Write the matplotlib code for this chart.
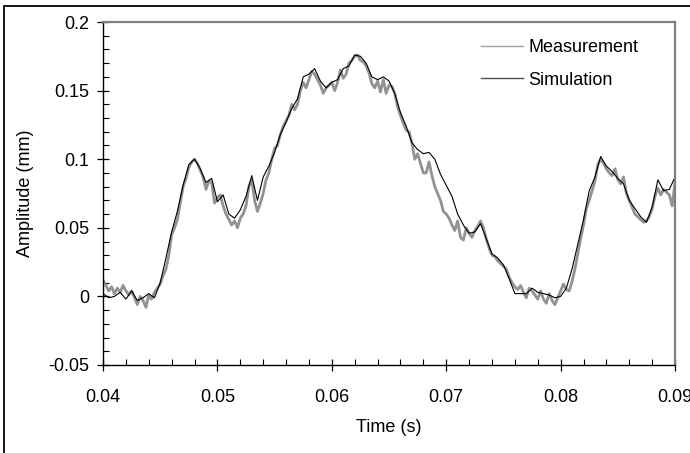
# import library
import numpy as np
import matplotlib.pyplot as plt
from matplotlib.patches import Rectangle

plt.rcParams['font.family'] = ['Liberation Sans', 'DejaVu Sans']

# data
# simulation, step 0.0005 s from 0.04 to 0.09
t_sim = np.linspace(0.04, 0.09, 101)
simulation = [
    0.002, -0.001, 0.000, 0.003, -0.002, 0.004, -0.003, -0.001, 0.002, -0.001,
    0.010, 0.028, 0.047, 0.062, 0.081, 0.096, 0.100, 0.093, 0.083, 0.086,
    0.069, 0.074, 0.060, 0.057, 0.063, 0.073, 0.088, 0.070, 0.087, 0.095,
    0.105, 0.118, 0.127, 0.137, 0.144, 0.160, 0.162, 0.166, 0.157, 0.152,
    0.156, 0.158, 0.166, 0.168, 0.176, 0.175, 0.170, 0.160, 0.158, 0.160,
    0.157, 0.148, 0.134, 0.124, 0.112, 0.107, 0.104, 0.105, 0.100, 0.089,
    0.081, 0.073, 0.060, 0.052, 0.046, 0.047, 0.053, 0.042, 0.031, 0.028,
    0.023, 0.013, 0.002, 0.002, 0.002, 0.006, 0.003, 0.002, 0.001, -0.001,
    0.000, 0.006, 0.020, 0.038, 0.056, 0.077, 0.087, 0.102, 0.095, 0.091,
    0.086, 0.082, 0.070, 0.064, 0.058, 0.054, 0.065, 0.085, 0.077, 0.078,
    0.087,
]

# measurement, step 0.00025 s from 0.04 to 0.09
t_meas = np.linspace(0.04, 0.09, 201)
measurement = [
    0.012, 0.008, 0.004, 0.007, 0.002, 0.006, 0.003, 0.008, 0.004, 0.001,
    0.004, -0.001, -0.006, 0.000, -0.003, -0.008, 0.001, -0.002, 0.003, 0.006,
    0.009, 0.015, 0.020, 0.030, 0.045, 0.050, 0.056, 0.068, 0.080, 0.086,
    0.094, 0.098, 0.100, 0.097, 0.092, 0.087, 0.078, 0.084, 0.083, 0.068,
    0.072, 0.074, 0.066, 0.060, 0.056, 0.052, 0.055, 0.050, 0.057, 0.060,
    0.066, 0.080, 0.085, 0.070, 0.062, 0.068, 0.075, 0.085, 0.090, 0.100,
    0.108, 0.110, 0.118, 0.124, 0.128, 0.132, 0.140, 0.136, 0.140, 0.150,
    0.156, 0.152, 0.158, 0.164, 0.162, 0.158, 0.154, 0.148, 0.152, 0.154,
    0.156, 0.150, 0.156, 0.165, 0.159, 0.162, 0.170, 0.172, 0.175, 0.176,
    0.172, 0.171, 0.168, 0.163, 0.155, 0.152, 0.157, 0.149, 0.158, 0.148,
    0.154, 0.153, 0.148, 0.138, 0.132, 0.126, 0.121, 0.120, 0.112, 0.100,
    0.104, 0.097, 0.090, 0.090, 0.098, 0.088, 0.080, 0.075, 0.070, 0.062,
    0.060, 0.057, 0.052, 0.048, 0.055, 0.043, 0.041, 0.050, 0.046, 0.043,
    0.048, 0.051, 0.055, 0.050, 0.042, 0.035, 0.030, 0.029, 0.026, 0.024,
    0.022, 0.020, 0.014, 0.010, 0.007, 0.005, 0.008, 0.003, -0.001, 0.006,
    0.004, 0.001, -0.002, 0.004, -0.002, -0.005, 0.002, -0.003, -0.006, -0.001,
    0.004, 0.009, 0.005, 0.004, 0.011, 0.020, 0.031, 0.042, 0.052, 0.064,
    0.070, 0.077, 0.084, 0.096, 0.100, 0.097, 0.093, 0.090, 0.088, 0.093,
    0.085, 0.082, 0.087, 0.075, 0.070, 0.065, 0.060, 0.058, 0.056, 0.054,
    0.055, 0.058, 0.064, 0.073, 0.079, 0.074, 0.078, 0.076, 0.074, 0.066,
    0.083,
]

x_ticks = [0.04, 0.05, 0.06, 0.07, 0.08, 0.09]
x_ticklabels = ["0.04", "0.05", "0.06", "0.07", "0.08", "0.09"]
y_ticks = [-0.05, 0, 0.05, 0.1, 0.15, 0.2]
y_ticklabels = ["-0.05", "0", "0.05", "0.1", "0.15", "0.2"]

# figure
fig = plt.figure(figsize=(6.9, 4.53), dpi=100)
ax = fig.add_axes([0.1493, 0.1943, 0.8290, 0.7571])

# outer frame (cut off at right and bottom)
fig.add_artist(Rectangle((0.0058, -0.1), 1.2, 1.0868, transform=fig.transFigure,
                         fill=False, edgecolor="black", linewidth=1.3))

# plot data
ax.plot(t_meas, measurement, color="#929292", linewidth=2.0, label="Measurement")
ax.plot(t_sim, simulation, color="black", linewidth=0.8, label="Simulation")

ax.set_xlim(0.04, 0.09)
ax.set_ylim(-0.05, 0.2)
ax.set_xticks(x_ticks)
ax.set_xticklabels(x_ticklabels)
ax.set_yticks(y_ticks)
ax.set_yticklabels(y_ticklabels)
ax.set_xticks(np.arange(0.042, 0.09, 0.002), minor=True)
ax.set_yticks(np.arange(-0.04, 0.2, 0.01), minor=True)

ax.tick_params(which="major", direction="inout", length=8, width=0.9, labelsize=13)
ax.tick_params(axis="x", which="major", pad=13)
ax.tick_params(axis="y", which="major", pad=6)
ax.tick_params(which="minor", direction="in", length=4, width=0.8)

for s in ["left", "bottom"]:
    ax.spines[s].set_color("black")
    ax.spines[s].set_linewidth(1.0)
for s in ["top", "right"]:
    ax.spines[s].set_color("#808080")
    ax.spines[s].set_linewidth(1.6)

ax.set_xlabel("Time (s)", fontsize=13, labelpad=10)
ax.set_ylabel("Amplitude (mm)", fontsize=13, labelpad=10)

# legend
leg = ax.legend(loc="upper left", bbox_to_anchor=(0.633, 0.997), frameon=False,
                fontsize=13, handlelength=2.3, handletextpad=0.3, labelspacing=0.85)
leg.get_lines()[0].set_linewidth(1.0)
leg.get_lines()[0].set_color("#a0a0a0")
leg.get_lines()[1].set_linewidth(1.0)
leg.get_lines()[1].set_color("#505050")

plt.savefig("out.png", dpi=100)
